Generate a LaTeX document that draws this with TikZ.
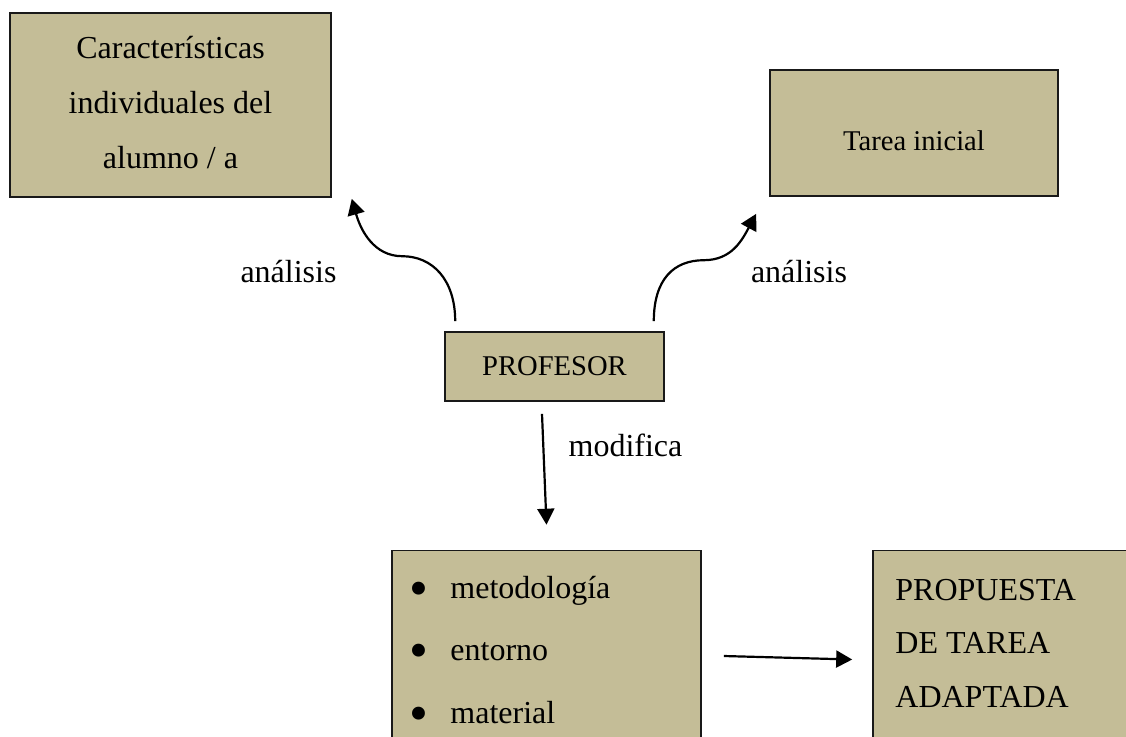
\documentclass[tikz,border=0pt]{standalone}
\usepackage{fontspec}
\setmainfont{Liberation Serif}
\usetikzlibrary{arrows.meta}
\definecolor{boxtan}{HTML}{C4BD97}
\newcommand{\bigbullet}{\raisebox{-4.2pt}[0pt][0pt]{\fontsize{27}{27}\selectfont\textbullet}}

\begin{document}
\begin{tikzpicture}[x=0.5pt,y=-0.5pt,>={Triangle[length=8pt,width=8.5pt]},
        box/.style={draw=black!90,line width=0.8pt,fill=boxtan,inner sep=0pt},
        big/.style={inner sep=0pt,font=\fontsize{16}{27.5}\selectfont},
        small/.style={inner sep=0pt,font=\fontsize{14.3}{17}\selectfont},
        link/.style={->,line width=1.1pt}]
        \useasboundingbox (0,0) rectangle (1126,736);
        \clip (0,0) rectangle (1126,736);
        % boxes
        \node[box,minimum width=160.5pt,minimum height=92pt] (alumno) at (170.5,105) {};
        \node[box,minimum width=144pt,minimum height=63pt] (tarea) at (914,133) {};
        \node[box,minimum width=109.5pt,minimum height=34.5pt] (profesor) at (554.5,366.5) {};
        \node[box,minimum width=154.5pt,minimum height=105pt] (cambios) at (546.5,655.5) {};
        \node[box,minimum width=133.5pt,minimum height=105pt] (propuesta) at (1006.5,655.5) {};
        % box texts
        \node[big,align=center] (alumnotxt) at (170.5,103) {Características\\individuales del\\alumno / a};
        \node[small] (tareatxt) at (914,141) {Tarea inicial};
        \node[small] (profesortxt) at (554.5,366) {PROFESOR};
        \foreach \t [count=\i] in {metodología, entorno, material} {
            \node[big,anchor=base west] (item\i) at (409,{598+62.5*(\i-1)}) {\makebox[20.5pt][l]{\bigbullet}\t};
        }
        \foreach \t [count=\i] in {PROPUESTA, DE TAREA, ADAPTADA} {
            \node[big,anchor=base west] (prop\i) at (895,{600+53.5*(\i-1)}) {\t};
        }
        % end points of the connectors
        \coordinate (ls) at ([shift={(11,-10)}]profesor.north west);
        \coordinate (le) at ([shift={(20,1)}]alumno.south east);
        \coordinate (rs) at ([shift={(-11,-10)}]profesor.north east);
        \coordinate (re) at ([shift={(-13,17)}]tarea.south west);
        \coordinate (ds) at ([shift={(-12.5,12)}]profesor.south);
        \coordinate (de) at ([shift={(0,-25)}]cambios.north);
        \coordinate (hs) at ([shift={(22,0.5)}]cambios.east);
        \coordinate (he) at ([shift={(-20,4)}]propuesta.west);
        % connectors
        \draw[link] (ls) .. controls +(0,-42) and +(30,0) .. ++(-53,-65)
            .. controls +(-28,0) and +(9,32) .. (le);
        \draw[link] (rs) .. controls +(0,-42) and +(-30,0) .. ++(50,-61)
            .. controls +(28,0) and +(-14,26) .. (re);
        \draw[link] (ds) -- (de);
        \draw[link] (hs) -- (he);
        % labels
        \node[big,anchor=base] (lblleft) at (288.5,282) {análisis};
        \node[big,anchor=base] (lblright) at (799,282) {análisis};
        \node[big,anchor=base] (lbldown) at (625.5,456) {modifica};
\end{tikzpicture}
\end{document}
